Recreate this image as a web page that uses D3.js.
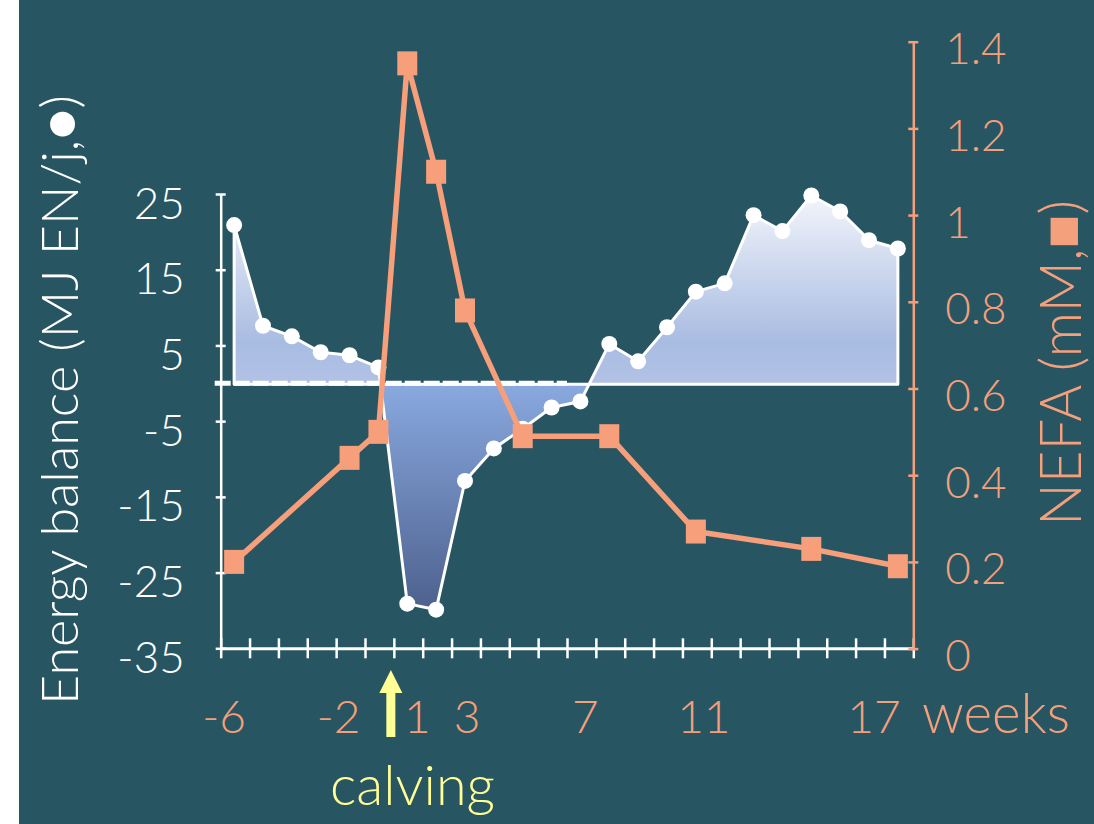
<!DOCTYPE html>
<html>
<head>
<meta charset="utf-8">
<script src="https://cdn.jsdelivr.net/npm/d3@7"></script>
<style>
  html, body { margin: 0; padding: 0; background: #ffffff; }
  svg { display: block; }
</style>
</head>
<body>
<script>
// ---------------- data ----------------
const weeks = ["-6","-5","-4","-3","-2","-1","1","2","3","4","5","6","7","8","9","10","11","12","13","14","15","16","17","18"];
const energyBalance = [20.9, 7.6, 6.2, 4.1, 3.7, 2.1, -29.1, -29.9, -12.9, -8.6, -6.0, -3.2, -2.4, 5.2, 2.9, 7.4, 12.1, 13.2, 22.2, 20.1, 24.8, 22.7, 18.9, 17.8];
const nefaWeeks = ["-6","-2","-1","1","2","3","5","8","11","15","18"];
const nefaValues = [0.20, 0.44, 0.50, 1.35, 1.10, 0.78, 0.49, 0.49, 0.27, 0.23, 0.19];
const leftTicks = [-35, -25, -15, -5, 5, 15, 25];
const rightTicks = [0, 0.2, 0.4, 0.6, 0.8, 1.0, 1.2, 1.4];
const xTickLabels = ["-6", "-2", "1", "3", "7", "11", "17"];
const xUnitLabel = "weeks";
const leftTitle = "Energy balance (MJ EN/j,\u25CF)";
const rightTitle = "NEFA (mM,\u25A0)";
const eventLabel = "calving";
const eventWeek = "1";

// ---------------- layout / style ----------------
const W = 1094, H = 824;
const BG = "#285562", ORANGE = "#F79E7A", LABEL_OR = "#F5A07C", YELLOW = "#FFFF96", WHITE = "#ffffff";
const FONT = "Lato, 'Open Sans', 'Noto Sans', sans-serif";
const xLabelNudge = [-10, -11, 10, 2, 5, 8, 5];

const svg = d3.select("body").append("svg").attr("width", W).attr("height", H);
svg.append("rect").attr("x", 19).attr("y", 0).attr("width", W - 19).attr("height", H).attr("fill", BG);

const x = d3.scaleBand().domain(weeks).range([220.7, 913.3]).padding(0);
const cx = w => x(w) + x.bandwidth() / 2 - 1;
const xi = d3.scaleLinear().domain([0, weeks.length]).range(x.range());
const yL = d3.scaleLinear().domain([-35, 25]).range([648.3, 194]);
const yR = d3.scaleLinear().domain([0, 1.4]).range([648.6, 41.7]);
const baseY = yL(0) + 1;

// gradients & clips
const defs = svg.append("defs");
const gPos = defs.append("linearGradient").attr("id", "gPos").attr("gradientUnits", "userSpaceOnUse")
  .attr("x1", 0).attr("x2", 0).attr("y1", yL(25)).attr("y2", baseY);
gPos.append("stop").attr("offset", 0).attr("stop-color", "#F3F5FB");
gPos.append("stop").attr("offset", 0.78).attr("stop-color", "#A8BCE2");
gPos.append("stop").attr("offset", 1).attr("stop-color", "#B2C2E5");
const gNeg = defs.append("linearGradient").attr("id", "gNeg").attr("gradientUnits", "userSpaceOnUse")
  .attr("x1", 0).attr("x2", 0).attr("y1", baseY).attr("y2", yL(-30.5));
gNeg.append("stop").attr("offset", 0).attr("stop-color", "#89A9DF");
gNeg.append("stop").attr("offset", 1).attr("stop-color", "#4C5F8C");
defs.append("clipPath").attr("id", "cPos").append("rect").attr("x", 0).attr("y", 0).attr("width", W).attr("height", baseY);
defs.append("clipPath").attr("id", "cNeg").append("rect").attr("x", 0).attr("y", baseY).attr("width", W).attr("height", H - baseY);

// ---------------- axes ----------------
const axL = svg.append("g").attr("transform", `translate(${x.range()[0]},0)`)
  .call(d3.axisLeft(yL).tickValues(leftTicks).tickSize(5).tickSizeOuter(0).tickFormat(d => String(d)));
axL.select(".domain").attr("stroke", WHITE).attr("stroke-width", 2.5);
axL.selectAll(".tick line").attr("x1", 5).attr("x2", -5).attr("stroke", WHITE).attr("stroke-width", 2.5);
axL.selectAll(".tick text").attr("x", -36).attr("dy", null).attr("y", 24)
  .attr("fill", WHITE).attr("text-anchor", "end")
  .style("font-family", FONT).style("font-size", "44px").style("font-weight", 300);

const axB = svg.append("g").attr("transform", `translate(0,${yL(-35)})`)
  .call(d3.axisBottom(xi).tickValues(d3.range(weeks.length + 1)).tickSize(10).tickSizeOuter(0).tickFormat(""));
axB.select(".domain").attr("stroke", WHITE).attr("stroke-width", 3);
axB.selectAll(".tick line").attr("y1", -10).attr("y2", 10).attr("stroke", WHITE).attr("stroke-width", 2.5);

const axR = svg.append("g").attr("transform", `translate(${x.range()[1]},0)`)
  .call(d3.axisRight(yR).tickValues(rightTicks).tickSize(5).tickSizeOuter(0).tickFormat(d => String(+d.toFixed(1))));
axR.select(".domain").attr("stroke", ORANGE).attr("stroke-width", 2.5);
axR.selectAll(".tick line").attr("x1", -5).attr("x2", 5).attr("stroke", ORANGE).attr("stroke-width", 2.5);
axR.selectAll(".tick text").attr("x", 32).attr("dy", null).attr("y", 22)
  .attr("fill", LABEL_OR).attr("text-anchor", "start")
  .style("font-family", FONT).style("font-size", "44px").style("font-weight", 300);

// ---------------- energy balance area ----------------
const eb = weeks.map((w, i) => ({ w, v: energyBalance[i] }));
const area = d3.area().x(d => cx(d.w)).y0(baseY).y1(d => yL(d.v));
svg.append("path").datum(eb).attr("d", area).attr("fill", "url(#gPos)").attr("clip-path", "url(#cPos)");
svg.append("path").datum(eb).attr("d", area).attr("fill", "url(#gNeg)").attr("clip-path", "url(#cNeg)");
svg.append("path").datum(eb).attr("d", area).attr("fill", "none")
  .attr("stroke", WHITE).attr("stroke-width", 3).attr("stroke-linejoin", "round");

// dashed zero line (pre-calving to week 7)
svg.append("line").attr("x1", x.range()[0] - 6).attr("x2", xi(12)).attr("y1", baseY - 1).attr("y2", baseY - 1)
  .attr("stroke", WHITE).attr("stroke-width", 5).attr("stroke-dasharray", "16 3");

svg.append("g").selectAll("circle").data(eb).join("circle")
  .attr("cx", d => cx(d.w)).attr("cy", d => yL(d.v)).attr("r", 8).attr("fill", WHITE);

// ---------------- NEFA ----------------
const nefa = nefaWeeks.map((w, i) => ({ w, v: nefaValues[i] }));
svg.append("path").datum(nefa)
  .attr("d", d3.line().x(d => cx(d.w)).y(d => yR(d.v)))
  .attr("fill", "none").attr("stroke", ORANGE).attr("stroke-width", 5.5).attr("stroke-linejoin", "round");
svg.append("g").selectAll("rect").data(nefa).join("rect")
  .attr("x", d => cx(d.w) - 10).attr("y", d => yR(d.v) - 12).attr("width", 20).attr("height", 24).attr("fill", ORANGE);

// ---------------- text ----------------
function fit(sel, target) {
  const len = sel.node().getComputedTextLength();
  const s = parseFloat(sel.style("font-size"));
  sel.style("font-size", (s * target / len) + "px");
}

svg.append("g").selectAll("text").data(xTickLabels).join("text")
  .attr("x", (d, i) => cx(d) + xLabelNudge[i]).attr("y", 733)
  .attr("text-anchor", "middle").attr("fill", LABEL_OR)
  .style("font-family", FONT).style("font-size", "46px").style("font-weight", 300)
  .text(d => d);

const wk = svg.append("text").attr("x", 922).attr("y", 733).attr("fill", LABEL_OR)
  .style("font-family", FONT).style("font-size", "46px").style("font-weight", 300).text(xUnitLabel);
fit(wk, 148);

// calving arrow
const ax = x(eventWeek) - 3;
svg.append("path")
  .attr("d", `M${ax},670 L${ax + 11.5},693 L${ax + 4.5},693 L${ax + 4.5},737 L${ax - 4.5},737 L${ax - 4.5},693 L${ax - 11.5},693 Z`)
  .attr("fill", YELLOW);
const cv = svg.append("text").attr("x", 412.5).attr("y", 805).attr("text-anchor", "middle").attr("fill", YELLOW)
  .style("font-family", FONT).style("font-size", "50px").style("font-weight", 300).text(eventLabel);
fit(cv, 165);

// axis titles
const lt = svg.append("text").attr("transform", "translate(78,400) rotate(-90)").attr("text-anchor", "middle")
  .attr("fill", WHITE).style("font-family", FONT).style("font-size", "48px").style("font-weight", 300).text(leftTitle);
fit(lt, 610);
const rt = svg.append("text").attr("transform", "translate(1081,363) rotate(-90)").attr("text-anchor", "middle")
  .attr("fill", LABEL_OR).style("font-family", FONT).style("font-size", "52px").style("font-weight", 300).text(rightTitle);
fit(rt, 326);
</script>
</body>
</html>
